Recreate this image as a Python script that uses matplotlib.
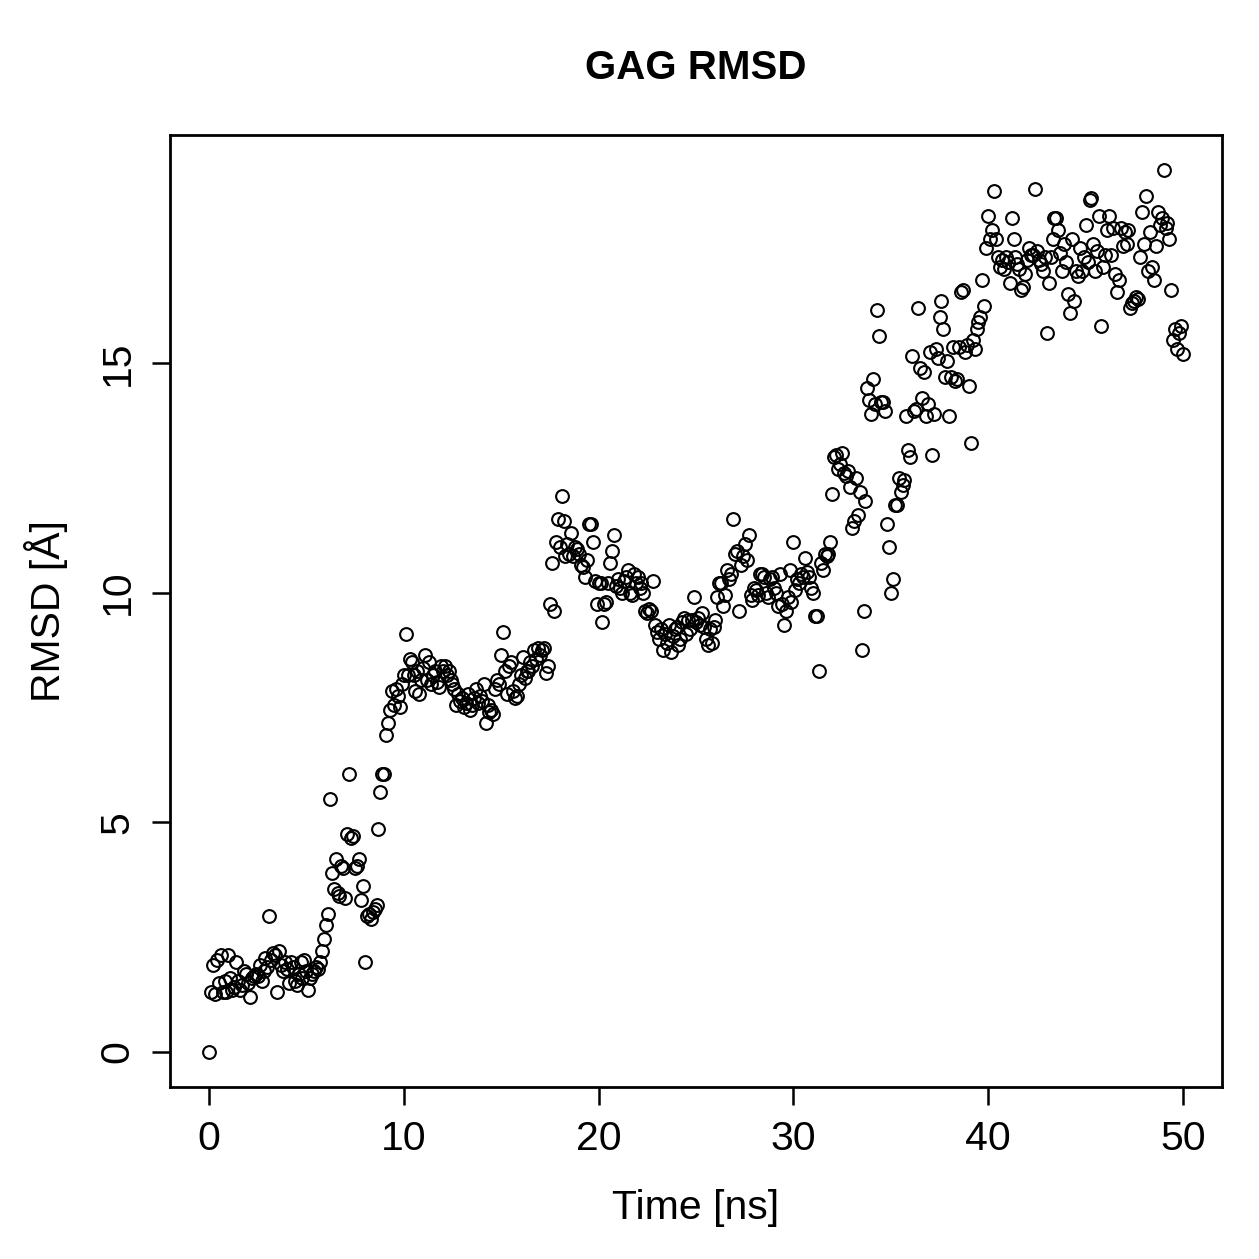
import numpy as np
import matplotlib
matplotlib.use("Agg")
import matplotlib.pyplot as plt

# Time axis: 0 .. 50 ns by 0.1 ns
time_ns = [i * 0.1 for i in range(501)]

rmsd = [0.0,
 1.3, 1.9, 1.25, 2.0, 1.5, 2.1, 1.3, 1.55, 1.3, 2.1,
 1.6, 1.35, 1.4, 1.95, 1.55, 1.35, 1.45, 1.75, 1.7, 1.5,
 1.2, 1.6, 1.65, 1.7, 1.65, 1.9, 1.55, 1.75, 2.05, 1.85,
 2.95, 2.0, 2.15, 2.1, 1.3, 2.2, 1.9, 1.75, 1.95, 1.8,
 1.5, 1.95, 1.85, 1.55, 1.45, 1.7, 1.95, 1.6, 2.0, 1.75,
 1.35, 1.6, 1.7, 1.75, 1.85, 1.8, 1.95, 2.2, 2.45, 2.75,
 3.0, 5.5, 3.9, 3.55, 4.2, 3.45, 3.4, 4.05, 4.0, 3.35,
 4.75, 6.05, 4.65, 4.7, 4.0, 4.05, 4.2, 3.3, 3.6, 1.95,
 2.95, 3.0, 2.9, 3.05, 3.1, 3.2, 4.85, 5.65, 6.05, 6.05,
 6.9, 7.15, 7.45, 7.85, 7.55, 7.9, 7.75, 7.5, 8.0, 8.2,
 9.1, 8.2, 8.55, 8.5, 8.2, 7.85, 8.3, 7.8, 8.1, 8.35,
 8.65, 8.1, 8.5, 8.0, 8.2, 8.3, 8.05, 7.95, 8.4, 8.3,
 8.4, 8.2, 8.3, 8.1, 8.0, 7.9, 7.55, 7.8, 7.65, 7.7,
 7.5, 7.6, 7.8, 7.45, 7.55, 7.7, 7.9, 7.6, 7.75, 7.65,
 8.0, 7.15, 7.55, 7.4, 7.45, 7.35, 7.9, 8.1, 8.0, 8.65,
 9.15, 8.3, 7.8, 8.4, 8.5, 7.85, 7.7, 7.75, 8.0, 8.2,
 8.6, 8.15, 8.3, 8.3, 8.5, 8.4, 8.75, 8.55, 8.8, 8.65,
 8.75, 8.8, 8.25, 8.4, 9.75, 10.65, 9.6, 11.1, 11.6, 11.0,
 12.1, 11.55, 10.8, 11.05, 10.85, 11.3, 10.8, 11.0, 10.95, 10.85,
 10.6, 10.55, 10.35, 10.7, 11.5, 11.5, 11.1, 10.25, 9.75, 10.2,
 10.2, 9.35, 9.75, 9.8, 10.2, 10.65, 10.9, 11.25, 10.15, 10.3,
 10.1, 10.0, 10.25, 10.35, 10.5, 10.0, 9.95, 10.4, 10.2, 10.35,
 10.1, 10.2, 10.0, 9.6, 9.55, 9.65, 9.6, 10.25, 9.3, 9.15,
 9.0, 9.2, 8.75, 9.1, 8.9, 9.3, 8.7, 9.05, 9.2, 9.25,
 8.85, 9.0, 9.35, 9.45, 9.1, 9.4, 9.2, 9.4, 9.9, 9.35,
 9.45, 9.3, 9.55, 9.25, 9.0, 8.85, 9.2, 8.9, 9.25, 9.4,
 9.9, 10.2, 10.2, 9.7, 9.95, 10.5, 10.3, 10.4, 11.6, 10.85,
 10.9, 9.6, 10.6, 10.8, 11.05, 10.7, 11.25, 9.95, 9.85, 10.1,
 10.05, 9.95, 10.4, 10.4, 10.35, 10.0, 9.9, 10.3, 10.35, 10.1,
 10.0, 9.7, 10.4, 9.75, 9.3, 9.6, 9.9, 10.5, 9.8, 11.1,
 10.05, 10.3, 10.2, 10.4, 10.35, 10.75, 10.45, 10.35, 10.1, 10.0,
 9.5, 9.5, 8.3, 10.65, 10.5, 10.85, 10.8, 10.85, 11.1, 12.15,
 12.95, 13.0, 12.7, 12.8, 13.05, 12.6, 12.55, 12.65, 12.3, 11.4,
 11.55, 12.5, 11.7, 12.2, 8.75, 9.6, 12.0, 14.45, 14.2, 13.9,
 14.65, 14.1, 16.15, 15.6, 14.15, 14.15, 13.95, 11.5, 11.0, 10.0,
 10.3, 11.9, 11.9, 12.5, 12.2, 12.35, 12.45, 13.85, 13.1, 12.95,
 15.15, 13.95, 14.0, 16.2, 14.9, 14.25, 14.8, 13.85, 14.1, 15.25,
 13.0, 13.9, 15.3, 15.1, 16.0, 16.35, 15.75, 14.7, 15.05, 13.85,
 14.7, 15.35, 14.6, 14.65, 15.35, 16.55, 16.6, 15.25, 15.4, 14.5,
 13.25, 15.5, 15.3, 15.75, 15.9, 16.0, 16.8, 16.25, 17.5, 18.2,
 17.7, 17.9, 18.75, 17.7, 17.3, 17.1, 17.25, 17.05, 17.3, 17.2,
 16.75, 18.15, 17.7, 17.3, 17.15, 17.05, 16.6, 16.65, 16.95, 17.25,
 17.5, 17.35, 17.35, 18.8, 17.45, 17.25, 17.15, 17.0, 17.3, 15.65,
 16.75, 17.3, 17.7, 18.15, 18.15, 17.9, 17.4, 17.0, 17.6, 17.2,
 16.5, 16.1, 17.7, 16.35, 17.0, 16.9, 17.5, 17.0, 17.3, 18.0,
 17.2, 18.55, 18.6, 17.6, 17.0, 17.45, 18.2, 15.8, 17.1, 17.35,
 17.9, 18.2, 17.35, 17.95, 16.95, 16.55, 16.8, 17.95, 17.55, 17.85,
 17.6, 17.9, 16.2, 16.3, 16.35, 16.45, 16.4, 17.3, 18.3, 17.6,
 18.65, 17.0, 17.85, 17.1, 16.8, 17.55, 18.3, 18.0, 18.15, 19.2,
 17.95, 18.05, 17.7, 16.6, 15.5, 15.75, 15.3, 15.65, 15.8, 15.2]

x_ticks = [0, 10, 20, 30, 40, 50]
y_ticks = [0, 5, 10, 15]
title = "GAG RMSD"
xlabel = "Time [ns]"
ylabel = "RMSD [Å]"

plt.rcParams['font.family'] = ['Liberation Sans', 'DejaVu Sans']

W = 1259
fig = plt.figure(figsize=(W / 100, W / 100), dpi=100)
ax = fig.add_axes([170 / W, 1 - 1087 / W, (1222 - 170) / W, (1087 - 135) / W])

ax.plot(time_ns, rmsd, linestyle='none', marker='o', markersize=9.2,
        markerfacecolor='none', markeredgecolor='black', markeredgewidth=1.5)

xr = max(time_ns) - min(time_ns)
yr = max(rmsd) - min(rmsd)
ax.set_xlim(min(time_ns) - 0.04 * xr, max(time_ns) + 0.04 * xr)
ax.set_ylim(min(rmsd) - 0.04 * yr, max(rmsd) + 0.04 * yr)

ax.set_xticks(x_ticks)
ax.set_yticks(y_ticks)
ax.set_xticklabels([str(v) for v in x_ticks])
ax.set_yticklabels([str(v) for v in y_ticks], rotation=90, va='center')
ax.tick_params(axis='both', direction='out', length=13, width=1.8,
               labelsize=29.5, pad=11, color='black')
for s in ax.spines.values():
    s.set_linewidth(2.0)

ax.set_xlabel(xlabel, fontsize=29.5, labelpad=22)
ax.set_ylabel(ylabel, fontsize=29.5, labelpad=22)
fig.text(696 / W, 1 - 68 / W, title, ha='center', va='center',
         fontsize=29, fontweight='bold')

fig.savefig("out.png", dpi=100)
